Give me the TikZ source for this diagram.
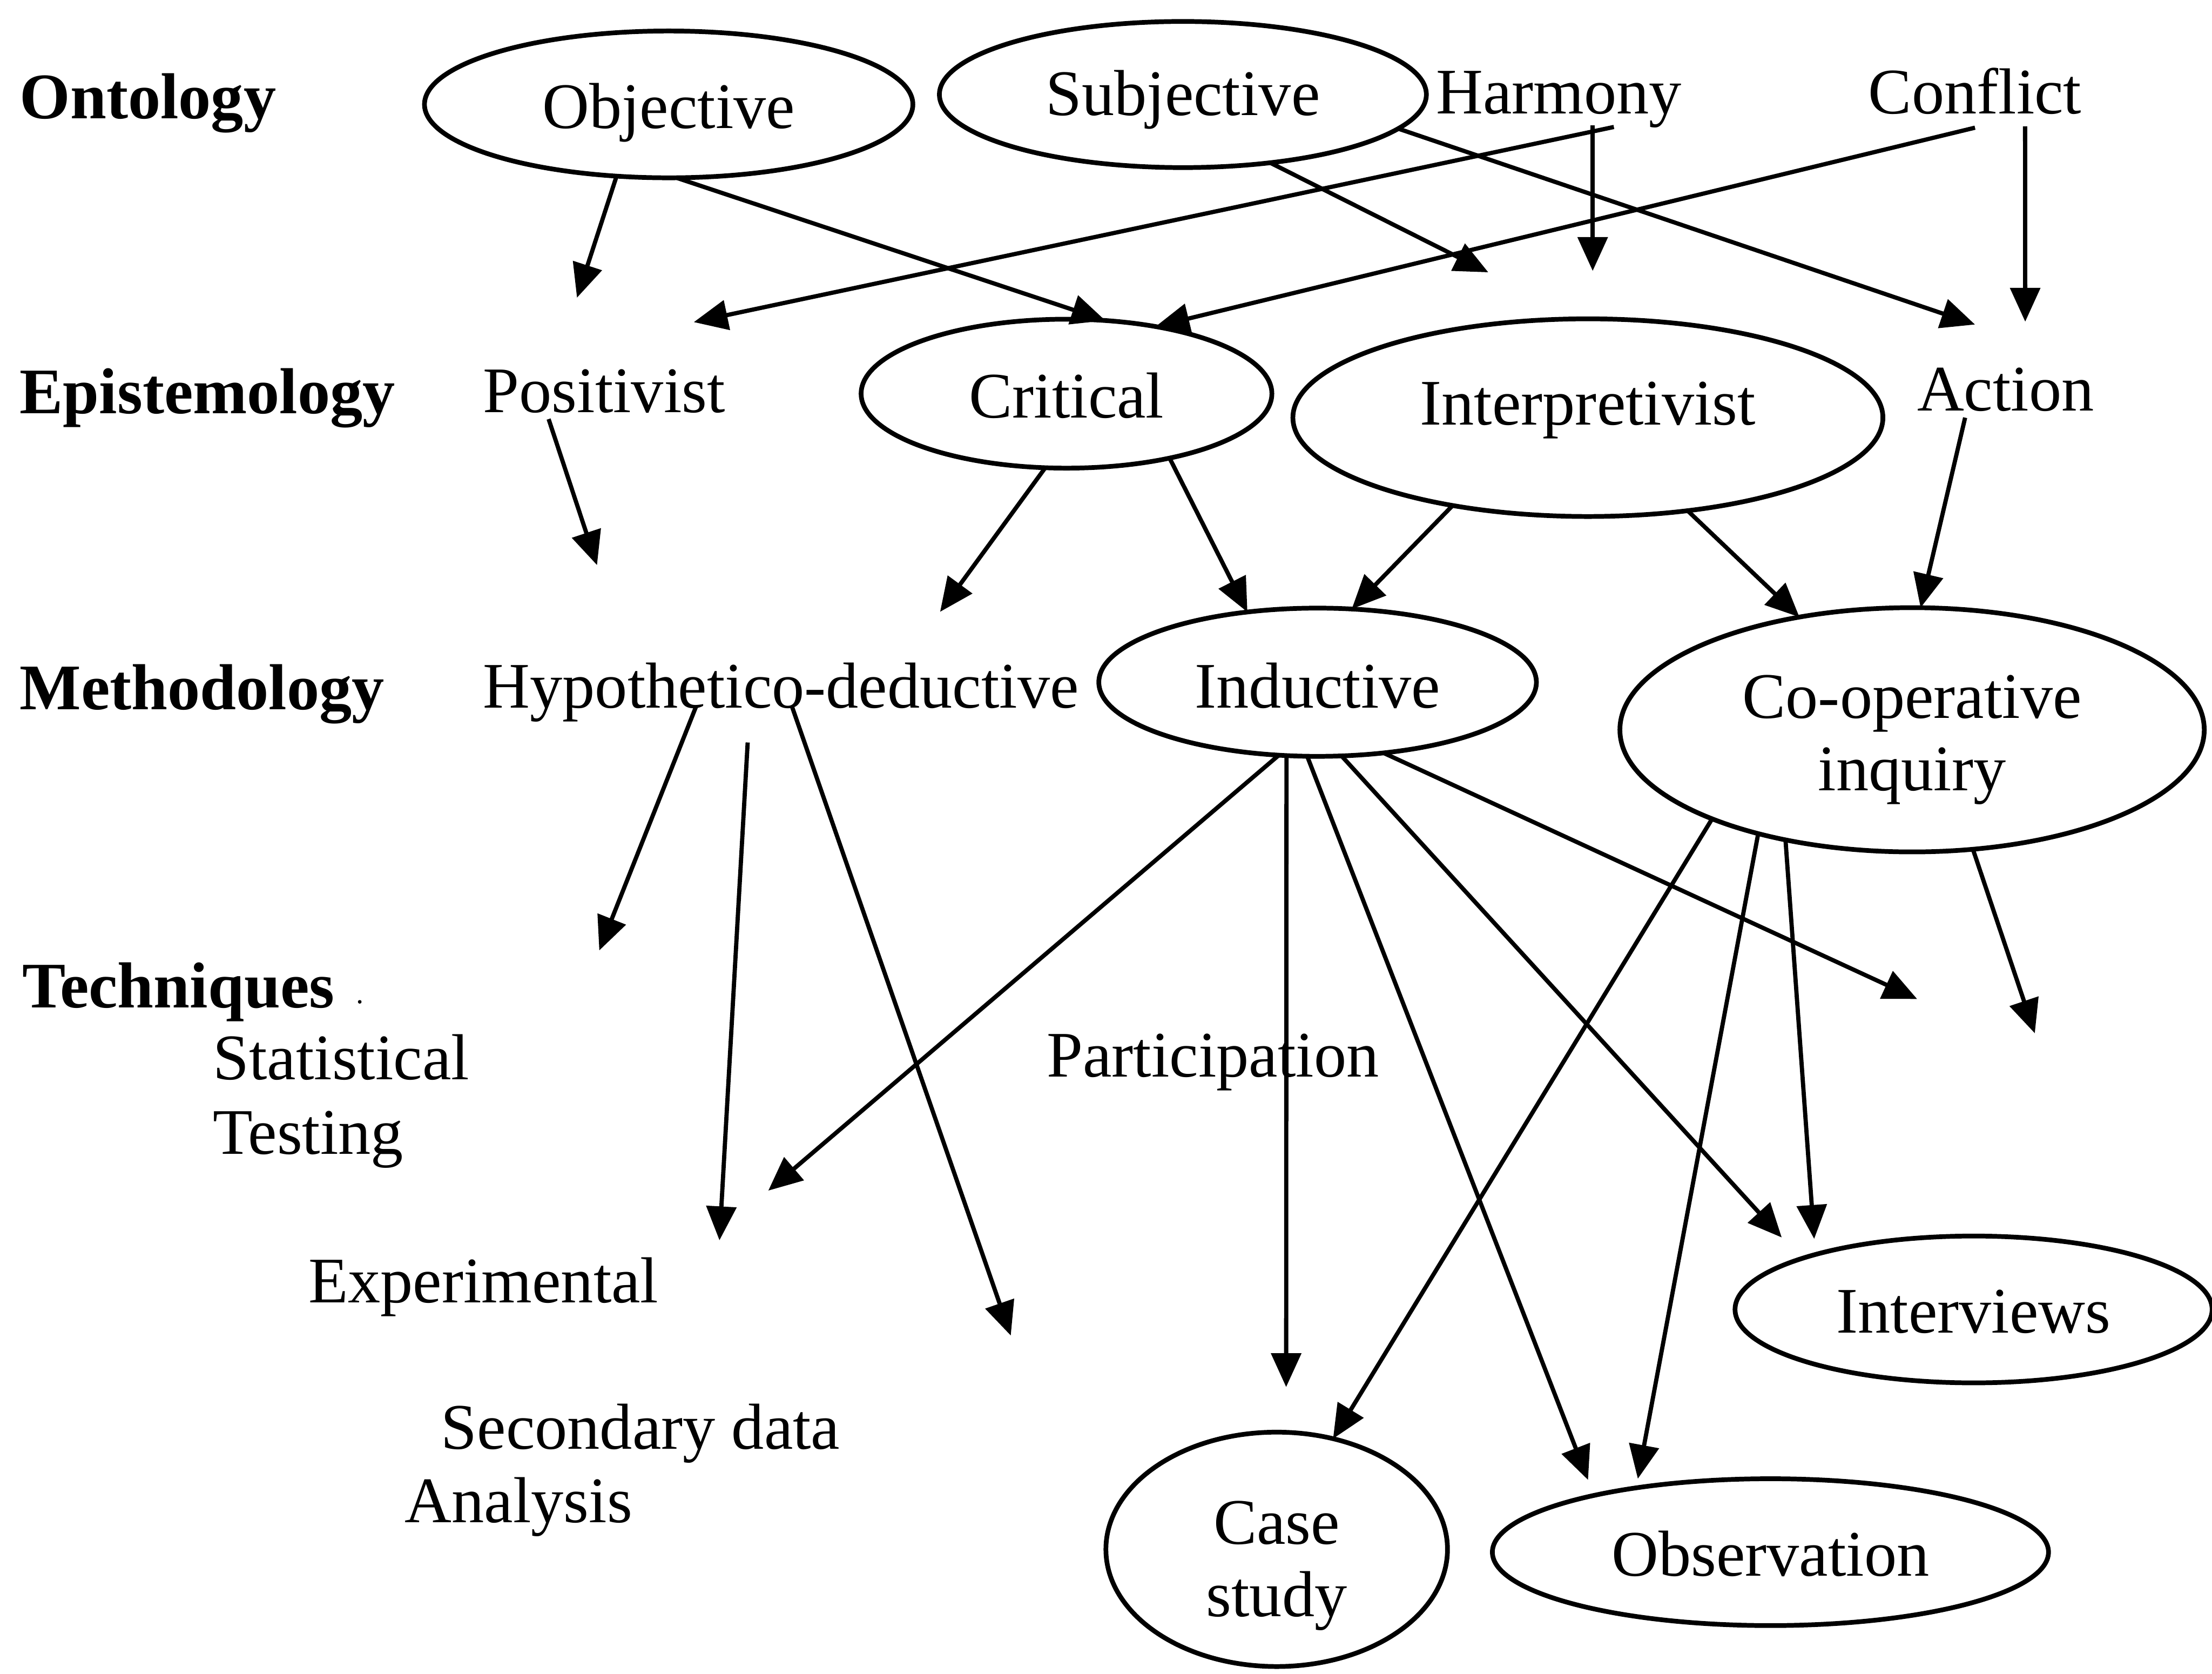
\documentclass[tikz,border=0pt]{standalone}
\usepackage{fontspec}
\setmainfont{Liberation Serif}
\usetikzlibrary{shapes.geometric,arrows.meta}
\newcommand\dfont{\fontsize{13.1}{14.6}\selectfont}
\begin{document}
\begin{tikzpicture}[x=0.01cm, y=-0.01cm,
  ell/.style={ellipse, draw, line width=0.95pt, inner sep=0pt, outer sep=0pt, font=\dfont, text depth=0pt},
  txt/.style={inner sep=0pt, outer sep=0pt, anchor=base west, font=\dfont},
  lab/.style={txt, font=\dfont\bfseries},
  arr/.style={line width=0.85pt, -{Triangle[length=0.24cm,width=0.21cm]}},
]
\useasboundingbox (0,0) rectangle (1568,1186);

% ellipses
\node[ell, minimum width=3.46cm, minimum height=1.04cm, text height=0.34cm] (obj) at (474,74) {Objective};
\node[ell, minimum width=3.45cm, minimum height=1.035cm, text height=0.294cm] (subj) at (838.5,67) {Subjective};
\node[ell, minimum width=2.91cm, minimum height=1.055cm, text height=0.34cm] (crit) at (756,279) {Critical};
\node[ell, minimum width=4.18cm, minimum height=1.40cm, text height=0.10cm] (interp) at (1125.6,296) {Interpretivist};
\node[ell, minimum width=3.10cm, minimum height=1.05cm, text height=0.36cm] (ind) at (934,483.5) {Inductive};
\node[ell, minimum width=4.14cm, minimum height=1.73cm, text height=0pt, text depth=0.164cm] (coop) at (1355.4,517.2) {\begin{tabular}[t]{@{}c@{}}Co-operative\\inquiry\end{tabular}};
\node[ell, minimum width=3.38cm, minimum height=1.04cm, text height=0.33cm] (intv) at (1399,928) {Interviews};
\node[ell, minimum width=2.42cm, minimum height=1.66cm, text height=0pt, text depth=0.074cm] (case) at (905,1098) {\begin{tabular}[t]{@{}c@{}}Case\\study\end{tabular}};
\node[ell, minimum width=3.94cm, minimum height=1.04cm, text height=0.34cm] (obs) at (1255,1100) {Observation};

% row labels
\node[lab] (ont) at (14,84) {Ontology};
\node[lab] (epi) at (14,293) {Epistemology};
\node[lab] (meth) at (14,503) {Methodology};
\node[lab] (tech) at (16,714) {Techniques};
\fill (255,710) circle (0.013cm);

% plain texts
\node[txt] (harm) at (1018,80.5) {Harmony};
\node[txt] (conf) at (1324.5,80.5) {Conflict};
\node[txt] (pos) at (342.5,292.3) {Positivist};
\node[txt] (act) at (1359,291) {Action};
\node[txt] (hyp) at (342.5,501.7) {Hypothetico-deductive};
\node[txt] (stat) at (151,765) {Statistical};
\node[txt] (test) at (151,818) {Testing};
\node[txt] (part) at (742,763) {Participation};
\node[txt] (exp) at (218.6,923) {Experimental};
\node[txt] (sec) at (312.7,1027) {Secondary data};
\node[txt] (ana) at (287,1079) {Analysis};

% free arrow ends
\coordinate (tObjPos) at (409,211);
\coordinate (tHarmPos) at (491.8,228.3);
\coordinate (tSubjA) at (1055,193);
\coordinate (tHarmD) at (1129,192);
\coordinate (tSubjAct) at (1400,230);
\coordinate (tConfD) at (1435.6,228);
\coordinate (tPos) at (423.2,400.5);
\coordinate (tCritHyp) at (666.4,433.6);
\coordinate (tHyp1) at (424.8,673.6);
\coordinate (tHyp2) at (510,879);
\coordinate (tHyp3) at (716.5,946.5);
\coordinate (tIndExp) at (544.6,843.8);
\coordinate (tIndCase) at (911.7,983);
\coordinate (tIndObs) at (1125.7,1048.8);
\coordinate (tIndIntv) at (1263,877);
\coordinate (tIndFree) at (1359,708);
\coordinate (tCoopObs) at (1161,1048);
\coordinate (tCoopIntv) at (1286,878);
\coordinate (tCoopFree) at (1442.4,732.3);

% connectors
\draw[arr] (obj.-126.5) -- (tObjPos);
\draw[arr] (obj.-84.5) -- (crit.62);
\draw[arr] (subj.-38) -- (tSubjA);
\draw[arr] (subj.-9.4) -- (tSubjAct);
\draw[arr] ([shift={(126,9.5)}]harm.base west) -- (tHarmPos);
\draw[arr] ([shift={(111,8.5)}]harm.base west) -- (tHarmD);
\draw[arr] ([shift={(75.5,10)}]conf.base west) -- (crit.37.4);
\draw[arr] ([shift={(111,9)}]conf.base west) -- (tConfD);
\draw[arr] ([shift={(46.4,4.7)}]pos.base west) -- (tPos);
\draw[arr] (crit.-106.5) -- (tCritHyp);
\draw[arr] (crit.-32.3) -- (ind.135);
\draw[arr] (interp.-147.3) -- (ind.65.8);
\draw[arr] (interp.-43.3) -- (coop.135.9);
\draw[arr] ([shift={(34,5)}]act.base west) -- (coop.86.5);
\draw[arr] ([shift={(150.8,-0.7)}]hyp.base west) -- (tHyp1);
\draw[arr] ([shift={(187.5,24.5)}]hyp.base west) -- (tHyp2);
\draw[arr] ([shift={(219,-0.7)}]hyp.base west) -- (tHyp3);
\draw[arr] (ind.-118.9) -- (tIndExp);
\draw[arr] (ind.-113.3) -- (tIndCase);
\draw[arr] (ind.-98.9) -- (tIndObs);
\draw[arr] (ind.-72.9) -- (tIndIntv);
\draw[arr] (ind.-47.1) -- (tIndFree);
\draw[arr] (coop.-156.5) -- (case.63.3);
\draw[arr] (coop.-146.4) -- (tCoopObs);
\draw[arr] (coop.-139.2) -- (tCoopIntv);
\draw[arr] (coop.-63.2) -- (tCoopFree);
\end{tikzpicture}
\end{document}
